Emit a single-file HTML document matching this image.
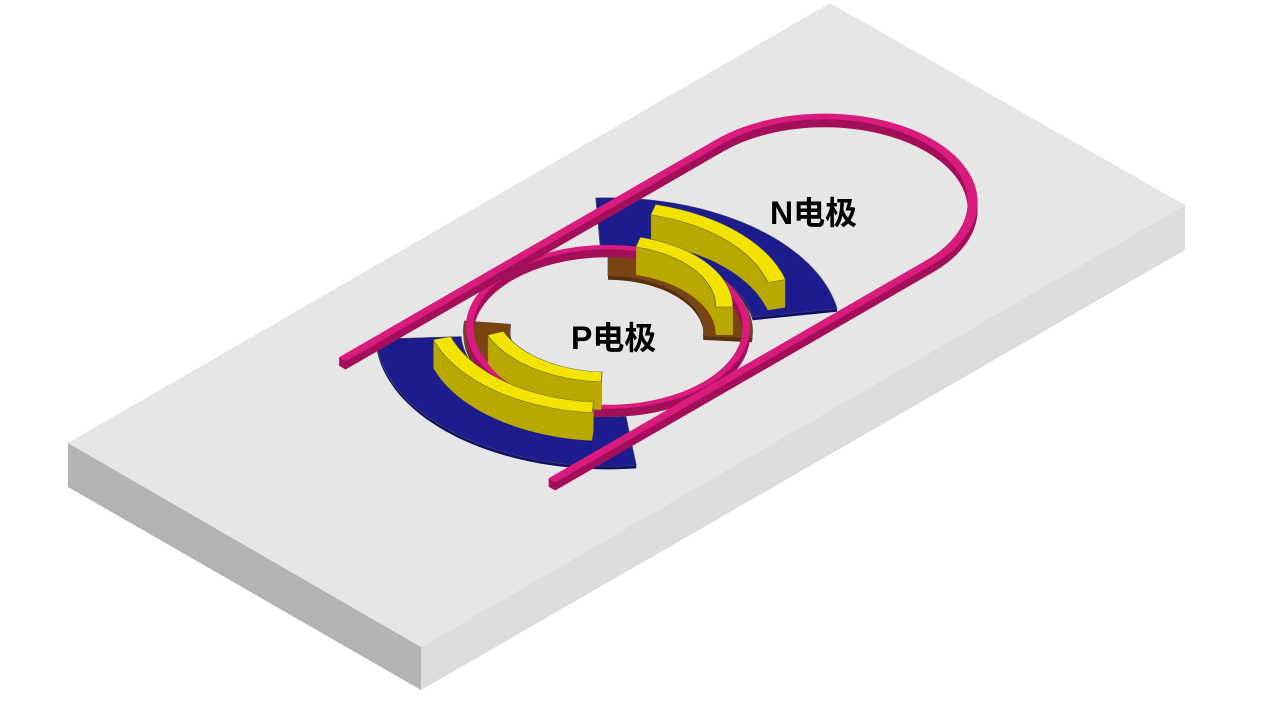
<!DOCTYPE html>
<html><head><meta charset="utf-8"><style>
html,body{margin:0;padding:0;background:#fff;width:1268px;height:714px;overflow:hidden}
svg{display:block}
text{font-family:"Liberation Sans","Noto Sans CJK SC",sans-serif;font-weight:bold;font-size:32px;fill:#000}
</style></head><body>
<svg id="s" width="1268" height="714" viewBox="0 0 1268 714" xmlns="http://www.w3.org/2000/svg">
<polygon points="68,443 421,647 421,690 68,487" fill="#b3b3b3"/>
<polygon points="421,647 1185,205 1185,250 421,690" fill="#dcdcdc"/>
<polygon points="68,443 830,3 1185,205 421,647" fill="#e6e6e6"/>
<g id="g"></g>
<text x="770" y="224">N电极</text>
<text x="571" y="349">P电极</text>
</svg>
<script>
var M="matrix(0.866,-0.5,0.866,0.5,608,335)";
var out="";
function sector(r1,r2,a0,a1){
  var p=[],n=40,i,a;
  for(i=0;i<=n;i++){a=(a0+(a1-a0)*i/n)*Math.PI/180;p.push((r2*Math.cos(a)).toFixed(1)+","+(r2*Math.sin(a)).toFixed(1));}
  for(i=n;i>=0;i--){a=(a0+(a1-a0)*i/n)*Math.PI/180;p.push((r1*Math.cos(a)).toFixed(1)+","+(r1*Math.sin(a)).toFixed(1));}
  return "M"+p.join(" L")+"Z";
}
function solid(d,H,side,top,extra){
  for(var h=0;h<H;h++) out+='<path transform="translate(0,'+(-h)+') '+M+'" d="'+d+'" fill="'+side+'" '+(extra||'')+'/>';
  out+='<path transform="translate(0,'+(-H)+') '+M+'" d="'+d+'" fill="'+top+'" stroke="#555" stroke-width="0.6" '+(extra||'')+'/>';
}
function strokeSolid(d,w,H,side,top,cap){
  for(var h=0;h<H;h++) out+='<path transform="translate(0,'+(-h)+') '+M+'" d="'+d+'" fill="none" stroke="'+side+'" stroke-width="'+w+'" stroke-linecap="'+cap+'"/>';
  out+='<path transform="translate(0,'+(-H)+') '+M+'" d="'+d+'" fill="none" stroke="'+top+'" stroke-width="'+w+'" stroke-linecap="'+cap+'"/>';
}
solid(sector(120,190,128,222),3,"#10106a","#1c1c8e");
solid(sector(120,190,-48,35),3,"#10106a","#1c1c8e");
solid(sector(80,118,140,232),4,"#5a2e08","#7a4412");
solid(sector(78,118,-45,50),4,"#5a2e08","#7a4412");
var ring="M113,0 A113,113 0 1 1 -113,0 A113,113 0 1 1 113,0Z";
strokeSolid(ring,6,8,"#a3105a","#d81b7c","butt");
var rt="M-182,-121 L250,-121 A121,121 0 0 1 250,121 L-182,121";
strokeSolid(rt,8,8,"#a3105a","#d81b7c","square");
solid(sector(92,106,138,203),28,"#b8a800","#f2e400");
solid(sector(135,150,140,207),28,"#b8a800","#f2e400");
solid(sector(135,150,-30,30),28,"#b8a800","#f2e400");
solid(sector(88,102,-30,45),28,"#b8a800","#f2e400");
document.getElementById("g").innerHTML=out;
</script>
</body></html>
